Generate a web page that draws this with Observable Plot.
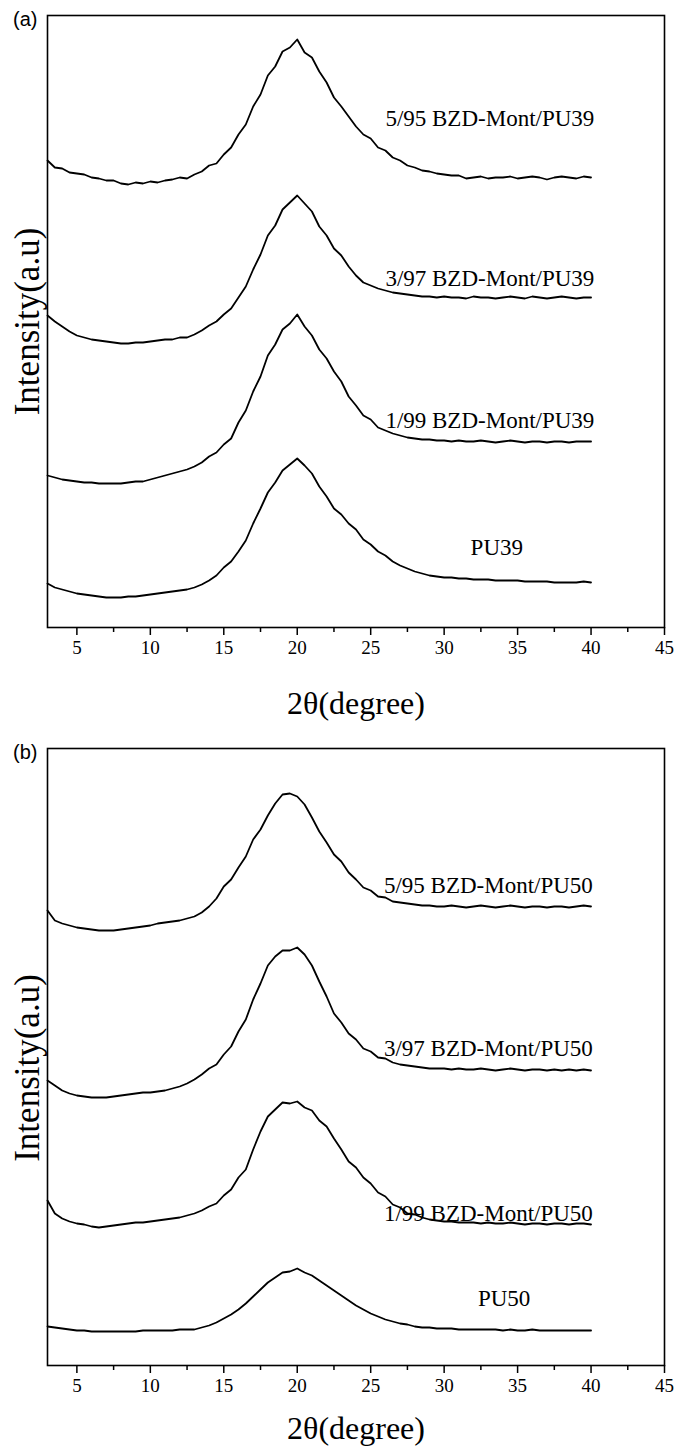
<!DOCTYPE html>
<html><head><meta charset="utf-8">
<script src="https://cdn.jsdelivr.net/npm/d3@7"></script>
<script src="https://cdn.jsdelivr.net/npm/@observablehq/plot@0.6"></script>
<style>body{margin:0;background:#fff} #chart svg{display:block}</style>
</head><body><div id="chart"></div>
<script>
// 2θ sampling (degree)
const twoTheta = [
  3.0, 3.5, 4.0, 4.5, 5.0, 5.5, 6.0, 6.5, 7.0, 7.5,
  8.0, 8.5, 9.0, 9.5, 10.0, 10.5, 11.0, 11.5, 12.0, 12.5,
  13.0, 13.5, 14.0, 14.5, 15.0, 15.5, 16.0, 16.5, 17.0, 17.5,
  18.0, 18.5, 19.0, 19.5, 20.0, 20.5, 21.0, 21.5, 22.0, 22.5,
  23.0, 23.5, 24.0, 24.5, 25.0, 25.5, 26.0, 26.5, 27.0, 27.5,
  28.0, 28.5, 29.0, 29.5, 30.0, 30.5, 31.0, 31.5, 32.0, 32.5,
  33.0, 33.5, 34.0, 34.5, 35.0, 35.5, 36.0, 36.5, 37.0, 37.5,
  38.0, 38.5, 39.0, 39.5, 40.0
];
// Panel (a) intensities (a.u., stacked as drawn)
const pu39_5_95 = [
  467, 460, 459, 455, 454, 453, 450, 449, 447, 447,
  444, 443, 445, 444, 446, 445, 447, 448, 450, 449,
  453, 456, 462, 464, 473, 480, 493, 503, 521, 533,
  552, 561, 576, 580, 588, 575, 570, 556, 545, 530,
  521, 511, 501, 493, 489, 480, 477, 470, 467, 462,
  460, 457, 456, 454, 453, 452, 452, 449, 450, 451,
  449, 450, 450, 451, 449, 450, 451, 450, 448, 450,
  451, 450, 449, 451, 450
];
const pu39_3_97 = [
  312, 306, 301, 296, 292, 290, 288, 287, 286, 285,
  284, 284, 285, 285, 286, 287, 288, 288, 290, 290,
  293, 297, 302, 306, 313, 319, 330, 341, 358, 373,
  392, 402, 418, 425, 432, 424, 416, 401, 392, 379,
  372, 361, 352, 345, 342, 339, 337, 335, 334, 333,
  332, 331, 331, 330, 331, 330, 330, 329, 331, 330,
  330, 329, 330, 331, 330, 329, 331, 330, 329, 330,
  331, 330, 329, 330, 330
];
const pu39_1_99 = [
  152, 150, 148, 147, 146, 145, 145, 144, 144, 144,
  144, 145, 146, 146, 148, 150, 152, 154, 156, 158,
  161, 165, 171, 175, 183, 189, 205, 217, 236, 251,
  272, 283, 298, 304, 313, 301, 292, 278, 269, 256,
  246, 231, 222, 212, 208, 200, 197, 194, 192, 190,
  189, 188, 188, 187, 187, 186, 187, 186, 186, 187,
  186, 185, 186, 187, 186, 185, 186, 186, 185, 186,
  186, 185, 186, 186, 186
];
const pu39 = [
  44, 40, 38, 36, 34, 33, 32, 31, 30, 30,
  30, 31, 31, 32, 33, 34, 35, 36, 37, 38,
  40, 43, 47, 52, 60, 66, 76, 87, 104, 119,
  135, 145, 157, 163, 169, 162, 154, 141, 131, 119,
  113, 104, 98, 88, 83, 76, 72, 66, 62, 59,
  56, 54, 52, 51, 50, 50, 49, 49, 48, 48,
  48, 47, 47, 47, 47, 46, 46, 46, 46, 45,
  45, 45, 45, 46, 45
];
// Panel (b) intensities
const pu50_5_95 = [
  455, 445, 442, 440, 438, 437, 436, 435, 435, 435,
  436, 437, 438, 439, 440, 442, 443, 444, 445, 447,
  449, 453, 459, 467, 479, 486, 498, 509, 526, 536,
  550, 562, 571, 572, 569, 561, 548, 534, 523, 511,
  504, 493, 486, 478, 475, 469, 468, 464, 463, 462,
  461, 460, 460, 459, 459, 460, 459, 458, 459, 460,
  459, 458, 459, 460, 459, 458, 459, 459, 458, 459,
  459, 458, 459, 460, 459
];
const pu50_3_97 = [
  285, 280, 275, 272, 270, 269, 268, 268, 268, 269,
  270, 271, 272, 273, 273, 274, 275, 277, 279, 282,
  286, 291, 297, 301, 311, 319, 334, 346, 366, 382,
  400, 409, 415, 415, 418, 411, 400, 384, 369, 352,
  343, 332, 326, 317, 314, 308, 307, 303, 301, 300,
  299, 298, 297, 297, 297, 296, 297, 296, 296, 297,
  296, 295, 296, 297, 296, 295, 296, 296, 295, 296,
  295, 296, 295, 296, 295
];
const pu50_1_99 = [
  165, 152, 147, 144, 142, 141, 139, 138, 139, 140,
  141, 142, 143, 143, 144, 145, 146, 147, 148, 150,
  152, 155, 159, 162, 170, 176, 188, 196, 216, 234,
  249, 256, 263, 262, 264, 258, 255, 245, 239, 227,
  216, 204, 198, 188, 182, 173, 169, 161, 158, 152,
  151, 148, 146, 145, 144, 144, 143, 143, 143, 142,
  143, 142, 142, 143, 142, 141, 142, 142, 141, 142,
  142, 141, 142, 142, 141
];
const pu50 = [
  39, 38, 37, 36, 35, 35, 34, 34, 34, 34,
  34, 34, 34, 35, 35, 35, 35, 35, 36, 36,
  36, 38, 40, 43, 47, 51, 56, 62, 69, 76,
  83, 88, 93, 94, 97, 93, 90, 85, 80, 75,
  70, 65, 60, 56, 52, 49, 46, 44, 42, 41,
  39, 38, 38, 37, 37, 37, 36, 36, 36, 36,
  36, 36, 35, 36, 35, 35, 36, 35, 35, 35,
  35, 35, 35, 35, 35
];
const seriesNamesA = ["5/95 BZD-Mont/PU39", "3/97 BZD-Mont/PU39", "1/99 BZD-Mont/PU39", "PU39"];
const seriesNamesB = ["5/95 BZD-Mont/PU50", "3/97 BZD-Mont/PU50", "1/99 BZD-Mont/PU50", "PU50"];
const majorTicks = [5, 10, 15, 20, 25, 30, 35, 40, 45];
const minorTicks = [7.5, 12.5, 17.5, 22.5, 27.5, 32.5, 37.5, 42.5];
// label anchor positions (2θ, a.u.)
const labelXA = [26.0, 26.0, 26.0, 31.8];
const labelYA = [509, 349, 207, 80];
const labelXB = [25.9, 25.9, 25.9, 32.3];
const labelYB = [480, 317, 152, 67];

function rows(names, arrays) {
  const out = [];
  names.forEach((n, i) => arrays[i].forEach((v, j) => out.push({s: n, x: twoTheta[j], y: v})));
  return out;
}
const dataA = rows(seriesNamesA, [pu39_5_95, pu39_3_97, pu39_1_99, pu39]);
const dataB = rows(seriesNamesB, [pu50_5_95, pu50_3_97, pu50_1_99, pu50]);
const labelsA = seriesNamesA.map((t, i) => ({text: t, x: labelXA[i], y: labelYA[i]}));
const labelsB = seriesNamesB.map((t, i) => ({text: t, x: labelXB[i], y: labelYB[i]}));

const serif = "Liberation Serif";
const sans = "Liberation Sans";
function panel(data, labels, tag, opts) {
  return Plot.plot({
    width: 674, height: opts.height,
    marginTop: opts.mt, marginBottom: opts.mb, marginLeft: 47, marginRight: 10,
    x: {domain: [3, 45], label: null},
    y: {domain: [0, opts.ymax], axis: null, label: null},
    style: {fontFamily: serif, background: "white", color: "black", overflow: "visible"},
    marks: [
      Plot.line(data, {x: "x", y: "y", z: "s", stroke: "black", strokeWidth: 1.8, strokeLinejoin: "round"}),
      Plot.frame({stroke: "black", strokeWidth: 1.6}),
      Plot.axisX({ticks: majorTicks, tickSize: 8, tickPadding: 5, fontSize: 19, fontFamily: serif, label: null, strokeWidth: 1.5}),
      Plot.axisX({ticks: minorTicks, tickSize: 5, tickFormat: () => "", label: null, strokeWidth: 1.5}),
      Plot.text(labels, {x: "x", y: "y", text: "text", textAnchor: "start", fontSize: 23, fontFamily: serif}),
      Plot.text(["2θ(degree)"], {frameAnchor: "bottom", textAnchor: "middle", lineAnchor: "middle", dy: opts.titleDy, fontSize: 32, fontFamily: serif}),
      Plot.text(["Intensity(a.u)"], {frameAnchor: "left", textAnchor: "middle", lineAnchor: "middle", rotate: -90, dx: -20, dy: opts.ylabDy, fontSize: 35, fontFamily: serif}),
      Plot.text([tag], {frameAnchor: "top-left", textAnchor: "end", lineAnchor: "middle", dx: -10, dy: 4, fontSize: 20, fontFamily: sans})
    ]
  });
}
const chart = document.getElementById("chart");
chart.append(panel(dataA, labelsA, "(a)", {height: 735, mt: 15, mb: 108, ymax: 612, titleDy: 76, ylabDy: 0}));
chart.append(panel(dataB, labelsB, "(b)", {height: 714, mt: 13, mb: 84, ymax: 617, titleDy: 63, ylabDy: 11}));
</script></body></html>
